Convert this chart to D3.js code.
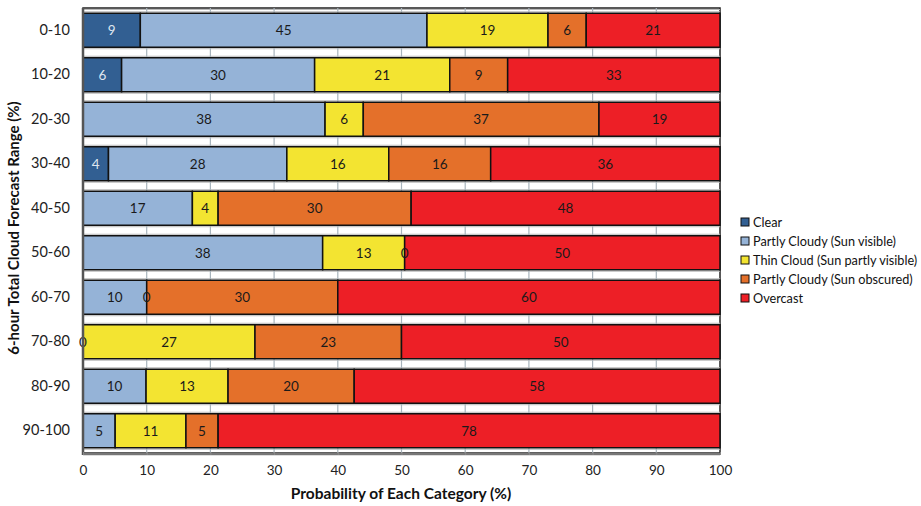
<!DOCTYPE html>
<html>
<head>
<meta charset="utf-8">
<script src="https://cdn.jsdelivr.net/npm/d3@7/dist/d3.min.js"></script>
<style>
  html, body { margin: 0; padding: 0; background: #fff; }
  svg { display: block; font-family: Lato, "Open Sans", sans-serif; }
</style>
</head>
<body>
<svg id="chart" width="921" height="506"></svg>
<script>
// ---- data ----
const categories = ["0-10","10-20","20-30","30-40","40-50","50-60","60-70","70-80","80-90","90-100"];
const seriesNames = ["Clear","Partly Cloudy (Sun visible)","Thin Cloud (Sun partly visible)","Partly Cloudy (Sun obscured)","Overcast"];
const clear         = [9, 6, null, 4, null, null, null, null, null, null];
const partlyVisible = [45, 30, 38, 28, 17, 38, 10, 0, 10, 5];
const thinCloud     = [19, 21, 6, 16, 4, 13, 0, 27, 13, 11];
const partlyObscured= [6, 9, 37, 16, 30, 0, 30, 23, 20, 5];
const overcast      = [21, 33, 19, 36, 48, 50, 60, 50, 58, 78];
const xTicks = [0,10,20,30,40,50,60,70,80,90,100];
const colors = ["#325f92","#95b3d7","#f3e431","#e4702a","#ed1f26"];
const labelColors = ["#dfe6f0","#1a1a1a","#1a1a1a","#1a1a1a","#1a1a1a"];

const seriesData = [clear, partlyVisible, thinCloud, partlyObscured, overcast];
const rows = categories.map((c, i) => {
  const r = { cat: c };
  seriesNames.forEach((s, j) => r[s] = seriesData[j][i]);
  return r;
});

const svg = d3.select("#chart");
const x = d3.scaleLinear().domain([0, 100]).range([83, 720]);
const y = d3.scaleBand().domain(categories).range([8, 453]).paddingInner(0.236).paddingOuter(0.118);

const stack = d3.stack()
  .keys(seriesNames)
  .value((d, k) => d[k] == null ? 0 : d[k])
  .offset(d3.stackOffsetExpand);
const stacked = stack(rows);

// plot background & 3D-ish gaps
const g = svg.append("g");
g.append("rect").attr("x", x(0)).attr("y", 8).attr("width", x(100) - x(0)).attr("height", 445)
  .attr("fill", "#fff").attr("stroke", "#222").attr("stroke-width", 1.5);

// horizontal gray lines in gaps
const gapTops = [8].concat(categories.map(c => y(c) + y.bandwidth()));
gapTops.forEach((t, i) => {
  g.append("line").attr("x1", x(0)).attr("x2", x(100)).attr("y1", t + 1.5).attr("y2", t + 1.5)
    .attr("stroke", "#b9b9b9").attr("stroke-width", 1);
});
categories.forEach(c => {
  g.append("line").attr("x1", x(0)).attr("x2", x(100)).attr("y1", y(c) - 1.5).attr("y2", y(c) - 1.5)
    .attr("stroke", "#b9b9b9").attr("stroke-width", 1);
});

// vertical gridlines
g.selectAll(".grid").data(xTicks.slice(1, -1)).enter().append("line")
  .attr("x1", d => x(d)).attr("x2", d => x(d)).attr("y1", 8).attr("y2", 453)
  .attr("stroke", "#a8b4bc").attr("stroke-width", 1.2);

// bars
const layer = g.selectAll(".layer").data(stacked).enter().append("g")
  .attr("fill", (d, i) => colors[i]);
layer.selectAll("rect").data(d => d).enter().append("rect")
  .attr("x", d => x(d[0] * 100))
  .attr("y", d => y(d.data.cat))
  .attr("width", d => Math.max(0, x(d[1] * 100) - x(d[0] * 100)))
  .attr("height", y.bandwidth())
  .attr("stroke", "#111").attr("stroke-width", 1.5);

// labels
stacked.forEach((s, i) => {
  g.selectAll(".lbl" + i).data(s.filter(d => d.data[s.key] != null)).enter().append("text")
    .attr("x", d => x((d[0] + d[1]) / 2 * 100))
    .attr("y", d => y(d.data.cat) + y.bandwidth() / 2)
    .attr("dy", "0.36em")
    .attr("text-anchor", "middle")
    .attr("font-size", 13.5)
    .attr("fill", labelColors[i])
    .text(d => d.data[s.key]);
});

// left axis line and bottom axis
g.append("line").attr("x1", x(0)).attr("x2", x(0)).attr("y1", 8).attr("y2", 455)
  .attr("stroke", "#555").attr("stroke-width", 2.5);
g.append("line").attr("x1", x(0)).attr("x2", x(100)).attr("y1", 454).attr("y2", 454)
  .attr("stroke", "#777").attr("stroke-width", 2.5);

const xAxis = d3.axisBottom(x).tickValues(xTicks).tickSize(3).tickPadding(10);
const xg = svg.append("g").attr("transform", "translate(0,452)").call(xAxis);
xg.select(".domain").remove();
xg.selectAll(".tick line").attr("stroke", "#888");
xg.selectAll("text").attr("font-size", 13.5).attr("fill", "#222").attr("font-family", "Lato, 'Open Sans', sans-serif");

const yAxis = d3.axisLeft(y).tickSize(0).tickPadding(13);
const yg = svg.append("g").attr("transform", "translate(83,0)").call(yAxis);
yg.select(".domain").remove();
yg.selectAll("text").attr("font-size", 14.5).attr("fill", "#222").attr("font-family", "Lato, 'Open Sans', sans-serif");

// axis titles
svg.append("text").attr("x", 401).attr("y", 499).attr("text-anchor", "middle")
  .attr("font-size", 15.5).attr("font-weight", "bold").attr("fill", "#111")
  .text("Probability of Each Category (%)");
svg.append("text").attr("transform", "translate(19,228) rotate(-90)").attr("text-anchor", "middle")
  .attr("font-size", 15).attr("font-weight", "bold").attr("fill", "#111")
  .text("6-hour Total Cloud Forecast Range (%)");

// legend
const lg = svg.append("g").attr("transform", "translate(741,222)");
seriesNames.forEach((s, i) => {
  const row = lg.append("g").attr("transform", `translate(0,${i * 19})`);
  row.append("rect").attr("x", 0).attr("y", -4).attr("width", 8).attr("height", 8)
    .attr("fill", colors[i]).attr("stroke", "#111").attr("stroke-width", 1);
  row.append("text").attr("x", 12).attr("y", 0).attr("dy", "0.36em")
    .attr("font-size", 12.7).attr("fill", "#111").text(s);
});
</script>
</body>
</html>
